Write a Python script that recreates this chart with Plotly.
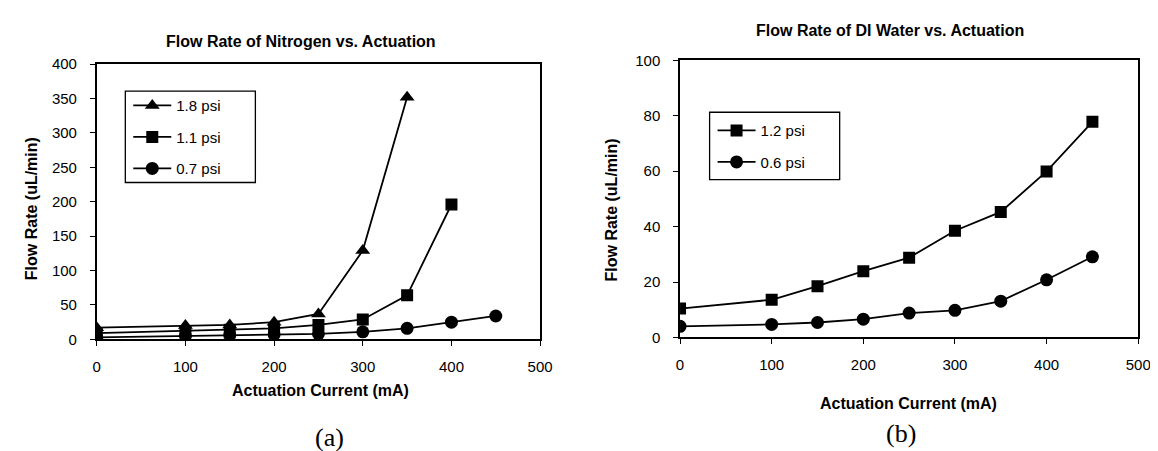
import plotly.graph_objects as go

W, H = 1158, 451

# ---- data: (a) Nitrogen ----
n2_current_18 = [0, 100, 150, 200, 250, 300, 350]
n2_flow_18 = [17, 20, 21, 25, 37, 129, 352]
n2_current_11 = [0, 100, 150, 200, 250, 300, 350, 400]
n2_flow_11 = [9, 12, 14, 16, 21, 29, 64, 196]
n2_current_07 = [0, 100, 150, 200, 250, 300, 350, 400, 450]
n2_flow_07 = [3, 5, 6, 7, 8, 11, 16, 25, 34]

# ---- data: (b) DI Water ----
di_current = [0, 100, 150, 200, 250, 300, 350, 400, 450]
di_flow_12 = [10.4, 13.6, 18.5, 23.9, 28.8, 38.5, 45.3, 59.9, 77.8]
di_flow_06 = [4.0, 4.7, 5.4, 6.6, 8.8, 9.8, 13.1, 20.8, 29.1]

left_x_ticks = [0, 100, 200, 300, 400, 500]
left_y_ticks = [0, 50, 100, 150, 200, 250, 300, 350, 400]
right_y_ticks = [0, 20, 40, 60, 80, 100]


def px(x):
    return x / W


def py(y):
    return 1 - y / H


FONT = "Liberation Sans, Arial, sans-serif"
line_style = dict(color="black", width=1.8)

fig = go.Figure()
fig.add_trace(go.Scatter(x=n2_current_18, y=n2_flow_18, name="1.8 psi", mode="lines+markers",
                         line=line_style, marker=dict(symbol="triangle-up", size=13, color="black"),
                         xaxis="x", yaxis="y", legend="legend", legendgroup="a1"))
fig.add_trace(go.Scatter(x=n2_current_11, y=n2_flow_11, name="1.1 psi", mode="lines+markers",
                         line=line_style, marker=dict(symbol="square", size=12, color="black"),
                         xaxis="x", yaxis="y", legend="legend", legendgroup="a2"))
fig.add_trace(go.Scatter(x=n2_current_07, y=n2_flow_07, name="0.7 psi", mode="lines+markers",
                         line=line_style, marker=dict(symbol="circle", size=13, color="black"),
                         xaxis="x", yaxis="y", legend="legend", legendgroup="a3"))
fig.add_trace(go.Scatter(x=di_current, y=di_flow_12, name="1.2 psi", mode="lines+markers",
                         line=line_style, marker=dict(symbol="square", size=12, color="black"),
                         xaxis="x2", yaxis="y2", legend="legend2", legendgroup="b1"))
fig.add_trace(go.Scatter(x=di_current, y=di_flow_06, name="0.6 psi", mode="lines+markers",
                         line=line_style, marker=dict(symbol="circle", size=13, color="black"),
                         xaxis="x2", yaxis="y2", legend="legend2", legendgroup="b2"))

axis_common = dict(showline=True, mirror=True, linecolor="black", linewidth=1.6,
                   ticks="outside", ticklen=5, tickcolor="black", tickwidth=1.2,
                   showgrid=False, zeroline=False,
                   tickfont=dict(family=FONT, size=15, color="black"))

tick_txt = lambda v: [str(t) for t in v]

fig.update_layout(
    width=W, height=H,
    margin=dict(l=0, r=0, t=0, b=0),
    paper_bgcolor="white", plot_bgcolor="white",
    showlegend=True,
    xaxis=dict(domain=[px(86), px(536)], range=[0, 500], anchor="y",
               tickvals=left_x_ticks, ticktext=tick_txt(left_x_ticks), ticklabelstandoff=8, **axis_common),
    yaxis=dict(domain=[py(335), py(49)], range=[0, 400], anchor="x",
               tickvals=left_y_ticks, ticktext=tick_txt(left_y_ticks), ticklabelstandoff=10, **axis_common),
    xaxis2=dict(domain=[px(678), px(1143)], range=[0, 500], anchor="y2",
                tickvals=left_x_ticks, ticktext=tick_txt(left_x_ticks), ticklabelstandoff=8, **axis_common),
    yaxis2=dict(domain=[py(333), py(45)], range=[0, 100], anchor="x2",
                tickvals=right_y_ticks, ticktext=tick_txt(right_y_ticks), ticklabelstandoff=10, **axis_common),
    legend=dict(x=px(118), y=py(75), xanchor="left", yanchor="top",
                bgcolor="rgba(0,0,0,0)", borderwidth=0,
                font=dict(family=FONT, size=15, color="black"),
                traceorder="grouped", tracegroupgap=9, itemwidth=38),
    legend2=dict(x=px(711), y=py(101), xanchor="left", yanchor="top",
                 bgcolor="rgba(0,0,0,0)", borderwidth=0,
                 font=dict(family=FONT, size=15, color="black"),
                 traceorder="grouped", tracegroupgap=9, itemwidth=38),
    shapes=[
        dict(type="rect", xref="paper", yref="paper", x0=px(115), x1=px(247), y0=py(172), y1=py(77),
             line=dict(color="black", width=1.3), fillcolor="white", layer="below"),
        dict(type="rect", xref="paper", yref="paper", x0=px(708), x1=px(840), y0=py(169), y1=py(99),
             line=dict(color="black", width=1.3), fillcolor="white", layer="below"),
    ],
)

bold = dict(family=FONT, size=16, color="black")
serif = dict(family="Liberation Serif, Times New Roman, serif", size=26, color="black")
annos = [
    ("<b>Flow Rate of Nitrogen vs. Actuation</b>", 293, 25, 0, bold),
    ("<b>Actuation Current (mA)</b>", 313, 388, 0, bold),
    ("<b>Flow Rate (uL/min)</b>", 20, 199, -90, bold),
    ("(a)", 322, 437, 0, serif),
    ("<b>Flow Rate of DI Water vs. Actuation</b>", 891, 14, 0, bold),
    ("<b>Actuation Current (mA)</b>", 910, 402, 0, bold),
    ("<b>Flow Rate (uL/min)</b>", 608, 201, -90, bold),
    ("(b)", 902, 433, 0, serif),
]
for text, x, y, ang, f in annos:
    fig.add_annotation(text=text, x=px(x), y=py(y), xref="paper", yref="paper",
                       showarrow=False, textangle=ang, font=f, xanchor="center", yanchor="middle")

fig.write_html("out.html")
